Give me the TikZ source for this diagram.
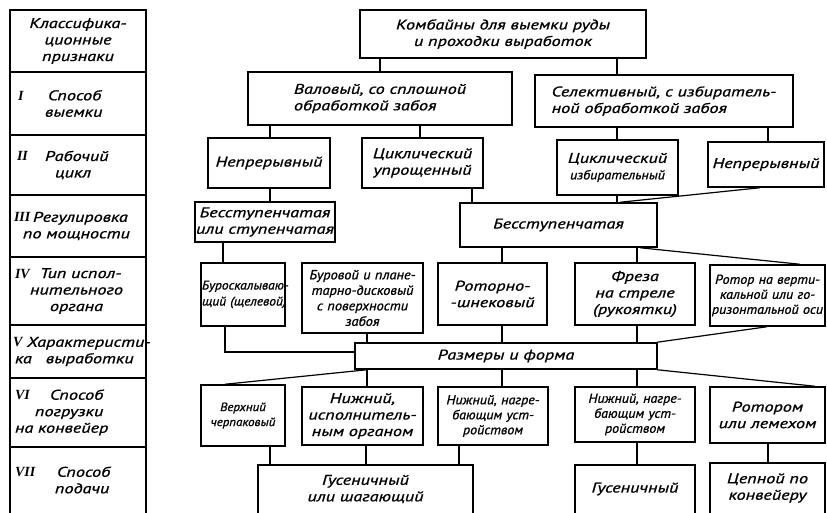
\documentclass[tikz,border=0pt]{standalone}
\usepackage{fontspec}
\setmainfont{PT Sans}[FakeStretch=1.3,FakeBold=1]
\newfontfamily\narrowfont{PT Sans}[FakeStretch=1.08,FakeBold=1]
\newfontfamily\romfont{Liberation Serif}
\newcommand\rn[1]{{\romfont\bfseries\itshape #1}}
\begin{document}
\begin{tikzpicture}[x=1pt,y=-1pt,
  font=\fontsize{14}{16.5}\selectfont\itshape,
  box/.style={draw,line width=1.5pt,inner sep=1pt,align=center},
  nbox/.style={box,font=\narrowfont\fontsize{13}{15}\selectfont\itshape},
  obox/.style={inner sep=1pt,align=center},
  cell/.style={draw,line width=1.5pt,text width=130,inner sep=3pt,align=left},
  ocell/.style={text width=130,inner sep=3pt,align=left},
  link/.style={line width=1.2pt},
  frame/.style={line width=1.5pt}]
\useasboundingbox (0,0) rectangle (827,513);
\clip (0,0) rectangle (827,513);

% ---------- left column ----------
\node[cell,align=center,minimum height=62] (h0) at (78,41) {Классифика-\\ционные\\признаки};
\node[cell,minimum height=63] (c1) at (78,103.5) {\hspace*{5pt}\makebox[30pt][l]{\rn{I}}Способ\\\hspace*{32pt}выемки};
\node[cell,minimum height=60] (c2) at (78,165) {\hspace*{4pt}\makebox[28pt][l]{\rn{II}}Рабочий\\\hspace*{42pt}цикл};
\node[cell,minimum height=62] (c3) at (78,226) {\mbox{\hspace*{1pt}\makebox[19pt][l]{\rn{III}}Регулировка}\\\hspace*{10pt}по мощности};
\node[cell,minimum height=68] (c4) at (78,291) {\mbox{\hspace*{2pt}\makebox[25pt][l]{\rn{IV}}Тип испол-}\\\hspace*{17pt}нительного\\\hspace*{37pt}органа};
\node[cell,minimum height=53] (c5) at (78,351.5) {\mbox{\makebox[14pt][l]{\rn{V}}Характеристи-}\\\mbox{\hspace*{2pt}ка\hspace{1em}выработки}};
\node[cell,minimum height=69] (c6) at (78,412.5) {\hspace*{2pt}\makebox[35pt][l]{\rn{VI}}Способ\\\hspace*{22pt}погрузки\\\mbox{\hspace*{2pt}на конвейер}};
\node[ocell,minimum height=66] (c7) at (78,480) {\hspace*{2pt}\makebox[42pt][l]{\rn{VII}}Способ\\\hspace*{42pt}подачи};
\draw[frame] (c7.south west) -- (c7.north west) -- (c7.north east) -- (c7.south east);

% ---------- tree ----------
\node[box,minimum width=286,minimum height=48] (top) at (503,34) {Комбайны для выемки руды\\и проходки выработок};
\node[box,minimum width=264,minimum height=53,align=left] (val) at (380,98.5) {Валовый, со сплошной\\обработкой забоя};
\node[box,minimum width=258,minimum height=52,align=left] (sel) at (664,101) {Селективный, с избиратель-\\ной обработкой забоя};

\node[box,minimum width=122,minimum height=50] (nep1) at (269,163) {Непрерывный};
\node[box,minimum width=121,minimum height=50] (cyc1) at (422.5,163) {Циклический\\упрощенный};
\node[box,minimum width=121,minimum height=55] (cyc2) at (617.5,167.5) {Циклический\\{\narrowfont\fontsize{13}{14}\selectfont\itshape избирательный}};
\node[box,minimum width=116,minimum height=45] (nep2) at (766,164.5) {Непрерывный};

\node[box,minimum width=130,minimum height=40] (bs1) at (265,222) {Бесступенчатая\\или ступенчатая};
\node[box,minimum width=197,minimum height=44] (bs2) at (558.5,225) {Бесступенчатая};

\node[nbox,text width=82,minimum height=63,font=\narrowfont\fontsize{12.5}{16}\selectfont\itshape] (r4a) at (243,294.5) {\mbox{Буроскалываю-}\\\mbox{щий (щелевой)}};
\node[nbox,text width=119,minimum height=70,font=\narrowfont\fontsize{13.3}{15.5}\selectfont\itshape] (r4b) at (362.5,298) {\mbox{Буровой и плане-}\\\mbox{тарно-дисковый}\\\mbox{с поверхности}\\забоя};
\node[box,text width=107,minimum height=62] (r4c) at (492.5,294) {Роторно-\\-шнековый};
\node[box,text width=118,minimum height=62] (r4d) at (635,294) {Фреза\\на стреле\\(рукоятки)};
\node[nbox,text width=113,minimum height=61] (r4e) at (767.5,295.5) {\mbox{Ротор на верти-}\\\mbox{кальной или го-}\\\mbox{ризонтальной оси}};

\node[box,minimum width=302,minimum height=26] (raz) at (506,356) {Размеры и форма};

\node[nbox,text width=82,minimum height=61,font=\narrowfont\fontsize{12}{15}\selectfont\itshape] (r6a) at (243,415.5) {Верхний\\черпаковый};
\node[box,text width=119,minimum height=58] (r6b) at (362.5,416) {Нижний,\\\mbox{исполнитель-}\\ным органом};
\node[nbox,text width=108,minimum height=58] (r6c) at (493,416) {\mbox{Нижний, нагре-}\\\mbox{бающим уст-}\\ройством};
\node[nbox,text width=118,minimum height=55] (r6d) at (635,414.5) {\mbox{Нижний, нагре-}\\\mbox{бающим уст-}\\ройством};
\node[box,text width=113,minimum height=56] (r6e) at (767.5,415) {Ротором\\или лемехом};

\node[obox,minimum width=215,minimum height=48] (r7a) at (365.5,489) {Гусеничный\\или шагающий};
\node[obox,minimum width=120,minimum height=48] (r7b) at (635,489) {Гусеничный};
\node[obox,minimum width=115,minimum height=50] (r7c) at (767.5,488) {Цепной по\\конвейеру};
\foreach \n in {r7a,r7b,r7c}
  \draw[frame] (\n.south west) -- (\n.north west) -- (\n.north east) -- (\n.south east);

% ---------- connectors ----------
\draw[link] (380,0 |- top.south) -- (380,0 |- val.north);
\draw[link] (617,0 |- top.south) -- (617,0 |- sel.north);
\draw[link] (270,0 |- val.south) -- (270,0 |- nep1.north);
\draw[link] (420,0 |- val.south) -- (420,0 |- cyc1.north);
\draw[link] (617,0 |- sel.south) -- (617,0 |- cyc2.north);
\draw[link] (768,0 |- sel.south) -- (768,0 |- nep2.north);
\draw[link] (270,0 |- nep1.south) -- (270,0 |- bs1.north);
\draw[link] (472,0 |- cyc1.south) -- (472,0 |- bs2.north);
\draw[link] (617,0 |- cyc2.south) -- (617,0 |- bs2.north);
\draw[link] (760,0 |- nep2.south) -- (620,0 |- bs2.north);
\draw[link] (223,0 |- bs1.south) -- (223,0 |- r4a.north);
\draw[link] (502,0 |- bs2.south) -- (502,0 |- r4c.north);
\draw[link] (637,0 |- bs2.south) -- (637,0 |- r4d.north);
\draw[link] (640,0 |- bs2.south) -- (800,0 |- r4e.north);
\draw[link] (225,0 |- r4a.south) |- ([yshift=4pt]raz.west);
\draw[link] (367,0 |- r4b.south) -- (367,0 |- raz.north);
\draw[link] (502,0 |- r4c.south) -- (502,0 |- raz.north);
\draw[link] (637,0 |- r4d.south) -- (637,0 |- raz.north);
\draw[link] (767,0 |- r4e.south) -- (657,0 |- raz.north);
\draw[link] (367,0 |- raz.south) -- (225,0 |- r6a.north);
\draw[link] (367,0 |- raz.south) -- (367,0 |- r6b.north);
\draw[link] (502,0 |- raz.south) -- (502,0 |- r6c.north);
\draw[link] (637,0 |- raz.south) -- (637,0 |- r6d.north);
\draw[link] (657,0 |- raz.south) -- (815,0 |- r6e.north);
\draw[link] (270,0 |- r6a.south) -- (270,0 |- r7a.north);
\draw[link] (366,0 |- r6b.south) -- (366,0 |- r7a.north);
\draw[link] (459,0 |- r6c.south) -- (459,0 |- r7a.north);
\draw[link] (637,0 |- r6d.south) -- (637,0 |- r7b.north);
\draw[link] (768,0 |- r6e.south) -- (768,0 |- r7c.north);
\end{tikzpicture}
\end{document}
